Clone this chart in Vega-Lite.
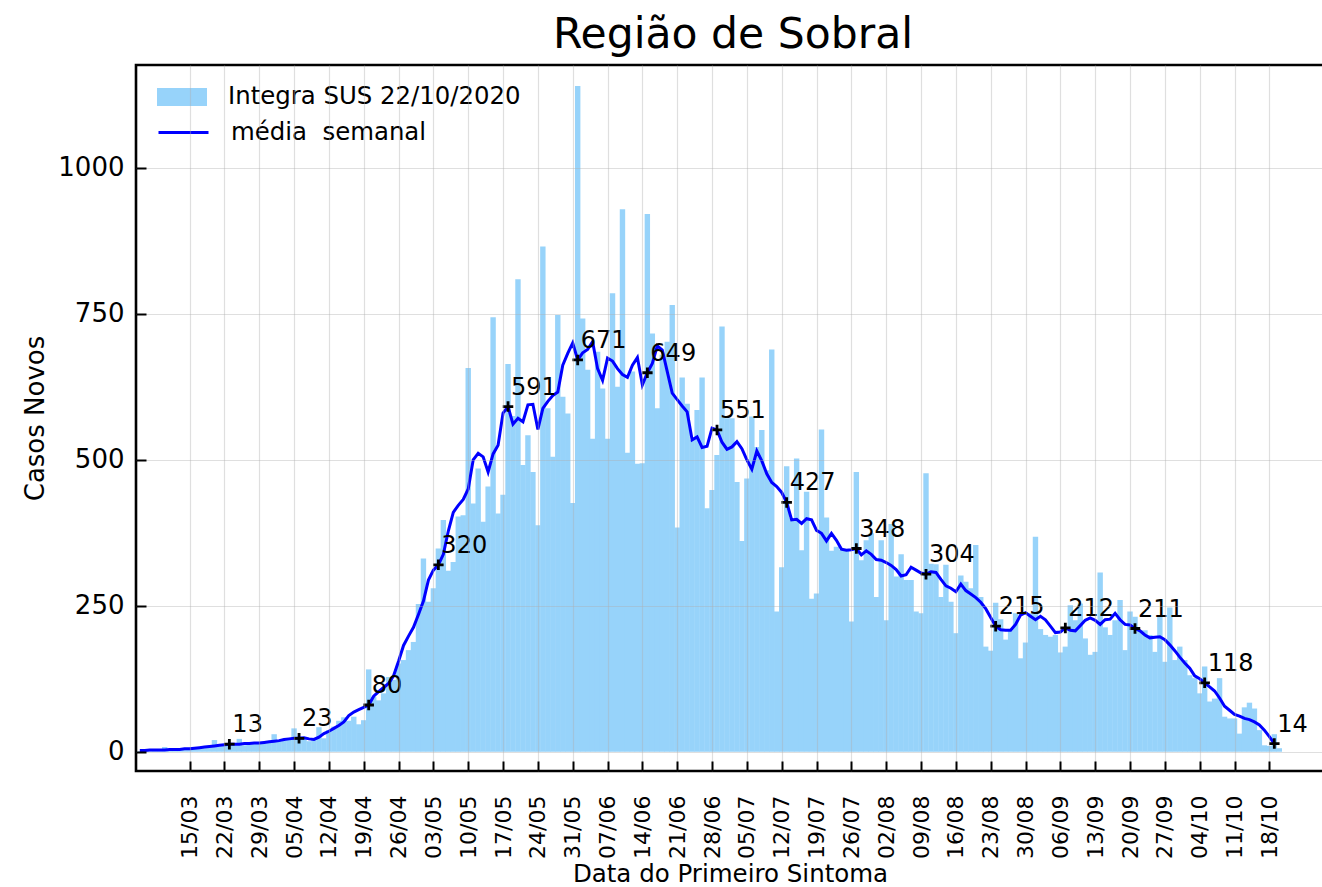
{
"$schema":"https://vega.github.io/schema/vega-lite/v6.json",
"autosize":"none",
"width":1188,"height":706,
"padding":{"left":136,"top":65,"right":0,"bottom":116},
"background":"white",
"config":{"font":"DejaVu Sans","view":{"stroke":"black","strokeWidth":2.6},"axis":{"labelFont":"DejaVu Sans","titleFont":"DejaVu Sans"},"legend":{"labelFont":"DejaVu Sans"}},
"title":{"text":"Região de Sobral","fontSize":42.5,"fontWeight":"normal","color":"black","anchor":"middle","frame":"group","offset":9,"dx":3},
"datasets":{
"diario":[
{"data":"2020-03-05","casos":1,"media":2},{"data":"2020-03-06","casos":2,"media":2},{"data":"2020-03-07","casos":1,"media":3},{"data":"2020-03-08","casos":3,"media":3},{"data":"2020-03-09","casos":2,"media":3},{"data":"2020-03-10","casos":8,"media":3},{"data":"2020-03-11","casos":3,"media":4},{"data":"2020-03-12","casos":4,"media":4},{"data":"2020-03-13","casos":5,"media":4},{"data":"2020-03-14","casos":3,"media":5},{"data":"2020-03-15","casos":6,"media":5},{"data":"2020-03-16","casos":5,"media":6},{"data":"2020-03-17","casos":7,"media":7},{"data":"2020-03-18","casos":8,"media":8},{"data":"2020-03-19","casos":9,"media":9},{"data":"2020-03-20","casos":20,"media":10},{"data":"2020-03-21","casos":10,"media":11},{"data":"2020-03-22","casos":12,"media":12},{"data":"2020-03-23","casos":14,"media":13},{"data":"2020-03-24","casos":15,"media":13},{"data":"2020-03-25","casos":22,"media":13},{"data":"2020-03-26","casos":11,"media":14},{"data":"2020-03-27","casos":13,"media":14},{"data":"2020-03-28","casos":15,"media":15},{"data":"2020-03-29","casos":14,"media":15},{"data":"2020-03-30","casos":16,"media":16},{"data":"2020-03-31","casos":17,"media":17},
{"data":"2020-04-01","casos":30,"media":18},{"data":"2020-04-02","casos":18,"media":19},{"data":"2020-04-03","casos":20,"media":21},{"data":"2020-04-04","casos":22,"media":22},{"data":"2020-04-05","casos":40,"media":23},{"data":"2020-04-06","casos":26,"media":23},{"data":"2020-04-07","casos":24,"media":24},{"data":"2020-04-08","casos":18,"media":22},{"data":"2020-04-09","casos":20,"media":21},{"data":"2020-04-10","casos":42,"media":25},{"data":"2020-04-11","casos":23,"media":31},{"data":"2020-04-12","casos":37,"media":35},{"data":"2020-04-13","casos":43,"media":40},{"data":"2020-04-14","casos":53,"media":45},{"data":"2020-04-15","casos":59,"media":51},{"data":"2020-04-16","casos":53,"media":62},{"data":"2020-04-17","casos":60,"media":68},{"data":"2020-04-18","casos":47,"media":72},{"data":"2020-04-19","casos":54,"media":76},{"data":"2020-04-20","casos":141,"media":80},{"data":"2020-04-21","casos":94,"media":95},{"data":"2020-04-22","casos":88,"media":103},{"data":"2020-04-23","casos":100,"media":110},{"data":"2020-04-24","casos":128,"media":117},{"data":"2020-04-25","casos":123,"media":130},{"data":"2020-04-26","casos":151,"media":155},{"data":"2020-04-27","casos":157,"media":182},{"data":"2020-04-28","casos":174,"media":198},{"data":"2020-04-29","casos":188,"media":213},{"data":"2020-04-30","casos":253,"media":235},
{"data":"2020-05-01","casos":331,"media":258},{"data":"2020-05-02","casos":257,"media":294},{"data":"2020-05-03","casos":280,"media":311},{"data":"2020-05-04","casos":348,"media":320},{"data":"2020-05-05","casos":397,"media":338},{"data":"2020-05-06","casos":310,"media":378},{"data":"2020-05-07","casos":325,"media":410},{"data":"2020-05-08","casos":403,"media":422},{"data":"2020-05-09","casos":405,"media":432},{"data":"2020-05-10","casos":657,"media":450},{"data":"2020-05-11","casos":425,"media":500},{"data":"2020-05-12","casos":485,"media":511},{"data":"2020-05-13","casos":394,"media":505},{"data":"2020-05-14","casos":454,"media":479},{"data":"2020-05-15","casos":744,"media":510},{"data":"2020-05-16","casos":408,"media":525},{"data":"2020-05-17","casos":440,"media":580},{"data":"2020-05-18","casos":664,"media":591},{"data":"2020-05-19","casos":575,"media":561},{"data":"2020-05-20","casos":809,"media":571},{"data":"2020-05-21","casos":491,"media":565},{"data":"2020-05-22","casos":542,"media":594},{"data":"2020-05-23","casos":479,"media":595},{"data":"2020-05-24","casos":388,"media":552},{"data":"2020-05-25","casos":865,"media":588},{"data":"2020-05-26","casos":588,"media":600},{"data":"2020-05-27","casos":505,"media":610},{"data":"2020-05-28","casos":748,"media":616},{"data":"2020-05-29","casos":608,"media":662},{"data":"2020-05-30","casos":579,"media":682},{"data":"2020-05-31","casos":426,"media":700},
{"data":"2020-06-01","casos":1140,"media":671},{"data":"2020-06-02","casos":742,"media":683},{"data":"2020-06-03","casos":654,"media":689},{"data":"2020-06-04","casos":536,"media":702},{"data":"2020-06-05","casos":685,"media":656},{"data":"2020-06-06","casos":622,"media":636},{"data":"2020-06-07","casos":536,"media":674},{"data":"2020-06-08","casos":785,"media":669},{"data":"2020-06-09","casos":625,"media":656},{"data":"2020-06-10","casos":929,"media":646},{"data":"2020-06-11","casos":512,"media":641},{"data":"2020-06-12","casos":651,"media":662},{"data":"2020-06-13","casos":493,"media":675},{"data":"2020-06-14","casos":494,"media":628},{"data":"2020-06-15","casos":921,"media":649},{"data":"2020-06-16","casos":716,"media":665},{"data":"2020-06-17","casos":588,"media":695},{"data":"2020-06-18","casos":680,"media":688},{"data":"2020-06-19","casos":702,"media":651},{"data":"2020-06-20","casos":765,"media":614},{"data":"2020-06-21","casos":384,"media":603},{"data":"2020-06-22","casos":641,"media":592},{"data":"2020-06-23","casos":596,"media":582},{"data":"2020-06-24","casos":534,"media":534},{"data":"2020-06-25","casos":585,"media":539},{"data":"2020-06-26","casos":641,"media":521},{"data":"2020-06-27","casos":417,"media":523},{"data":"2020-06-28","casos":448,"media":554},{"data":"2020-06-29","casos":508,"media":551},{"data":"2020-06-30","casos":728,"media":530},
{"data":"2020-07-01","casos":571,"media":518},{"data":"2020-07-02","casos":571,"media":522},{"data":"2020-07-03","casos":462,"media":531},{"data":"2020-07-04","casos":361,"media":519},{"data":"2020-07-05","casos":468,"media":500},{"data":"2020-07-06","casos":574,"media":484},{"data":"2020-07-07","casos":522,"media":515},{"data":"2020-07-08","casos":551,"media":498},{"data":"2020-07-09","casos":482,"media":476},{"data":"2020-07-10","casos":689,"media":461},{"data":"2020-07-11","casos":240,"media":454},{"data":"2020-07-12","casos":316,"media":444},{"data":"2020-07-13","casos":489,"media":427},{"data":"2020-07-14","casos":400,"media":397},{"data":"2020-07-15","casos":502,"media":398},{"data":"2020-07-16","casos":345,"media":391},{"data":"2020-07-17","casos":445,"media":399},{"data":"2020-07-18","casos":262,"media":397},{"data":"2020-07-19","casos":271,"media":379},{"data":"2020-07-20","casos":552,"media":374},{"data":"2020-07-21","casos":401,"media":361},{"data":"2020-07-22","casos":344,"media":374},{"data":"2020-07-23","casos":351,"media":362},{"data":"2020-07-24","casos":346,"media":347},{"data":"2020-07-25","casos":344,"media":345},{"data":"2020-07-26","casos":223,"media":346},{"data":"2020-07-27","casos":479,"media":348},{"data":"2020-07-28","casos":328,"media":337},{"data":"2020-07-29","casos":362,"media":344},{"data":"2020-07-30","casos":374,"media":338},{"data":"2020-07-31","casos":265,"media":329},
{"data":"2020-08-01","casos":362,"media":328},{"data":"2020-08-02","casos":225,"media":324},{"data":"2020-08-03","casos":390,"media":319},{"data":"2020-08-04","casos":300,"media":312},{"data":"2020-08-05","casos":338,"media":301},{"data":"2020-08-06","casos":294,"media":303},{"data":"2020-08-07","casos":294,"media":316},{"data":"2020-08-08","casos":240,"media":311},{"data":"2020-08-09","casos":237,"media":306},{"data":"2020-08-10","casos":477,"media":304},{"data":"2020-08-11","casos":322,"media":308},{"data":"2020-08-12","casos":321,"media":307},{"data":"2020-08-13","casos":265,"media":295},{"data":"2020-08-14","casos":320,"media":284},{"data":"2020-08-15","casos":257,"media":280},{"data":"2020-08-16","casos":203,"media":274},{"data":"2020-08-17","casos":302,"media":287},{"data":"2020-08-18","casos":291,"media":276},{"data":"2020-08-19","casos":280,"media":270},{"data":"2020-08-20","casos":354,"media":264},{"data":"2020-08-21","casos":265,"media":256},{"data":"2020-08-22","casos":180,"media":245},{"data":"2020-08-23","casos":173,"media":230},{"data":"2020-08-24","casos":255,"media":215},{"data":"2020-08-25","casos":227,"media":209},{"data":"2020-08-26","casos":192,"media":208},{"data":"2020-08-27","casos":208,"media":208},{"data":"2020-08-28","casos":237,"media":218},{"data":"2020-08-29","casos":160,"media":234},{"data":"2020-08-30","casos":187,"media":238},{"data":"2020-08-31","casos":237,"media":232},
{"data":"2020-09-01","casos":368,"media":226},{"data":"2020-09-02","casos":210,"media":232},{"data":"2020-09-03","casos":200,"media":226},{"data":"2020-09-04","casos":197,"media":215},{"data":"2020-09-05","casos":200,"media":204},{"data":"2020-09-06","casos":170,"media":205},{"data":"2020-09-07","casos":180,"media":212},{"data":"2020-09-08","casos":251,"media":208},{"data":"2020-09-09","casos":225,"media":207},{"data":"2020-09-10","casos":254,"media":216},{"data":"2020-09-11","casos":194,"media":225},{"data":"2020-09-12","casos":166,"media":229},{"data":"2020-09-13","casos":171,"media":225},{"data":"2020-09-14","casos":307,"media":218},{"data":"2020-09-15","casos":213,"media":226},{"data":"2020-09-16","casos":200,"media":227},{"data":"2020-09-17","casos":225,"media":237},{"data":"2020-09-18","casos":260,"media":226},{"data":"2020-09-19","casos":174,"media":218},{"data":"2020-09-20","casos":240,"media":217},{"data":"2020-09-21","casos":231,"media":211},{"data":"2020-09-22","casos":208,"media":207},{"data":"2020-09-23","casos":208,"media":200},{"data":"2020-09-24","casos":200,"media":195},{"data":"2020-09-25","casos":171,"media":196},{"data":"2020-09-26","casos":231,"media":197},{"data":"2020-09-27","casos":154,"media":192},{"data":"2020-09-28","casos":247,"media":183},{"data":"2020-09-29","casos":157,"media":173},{"data":"2020-09-30","casos":180,"media":162},
{"data":"2020-10-01","casos":157,"media":152},{"data":"2020-10-02","casos":131,"media":143},{"data":"2020-10-03","casos":126,"media":130},{"data":"2020-10-04","casos":100,"media":125},{"data":"2020-10-05","casos":146,"media":118},{"data":"2020-10-06","casos":86,"media":111},{"data":"2020-10-07","casos":91,"media":104},{"data":"2020-10-08","casos":126,"media":92},{"data":"2020-10-09","casos":60,"media":78},{"data":"2020-10-10","casos":57,"media":71},{"data":"2020-10-11","casos":57,"media":64},{"data":"2020-10-12","casos":31,"media":61},{"data":"2020-10-13","casos":76,"media":57},{"data":"2020-10-14","casos":84,"media":55},{"data":"2020-10-15","casos":74,"media":51},{"data":"2020-10-16","casos":37,"media":46},{"data":"2020-10-17","casos":11,"media":37},{"data":"2020-10-18","casos":10,"media":26},{"data":"2020-10-19","casos":30,"media":14},{"data":"2020-10-20","casos":6,"media":null}
],
"marcos":[
{"data":"2020-03-23","valor":13},{"data":"2020-04-06","valor":23},{"data":"2020-04-20","valor":80},{"data":"2020-05-04","valor":320},{"data":"2020-05-18","valor":591},{"data":"2020-06-01","valor":671},{"data":"2020-06-15","valor":649},{"data":"2020-06-29","valor":551},{"data":"2020-07-13","valor":427},{"data":"2020-07-27","valor":348},{"data":"2020-08-10","valor":304},{"data":"2020-08-24","valor":215},{"data":"2020-09-07","valor":212},{"data":"2020-09-21","valor":211},{"data":"2020-10-05","valor":118},{"data":"2020-10-19","valor":14}
]
},
"encoding":{
"x":{"field":"data","type":"temporal",
"scale":{"type":"utc","nice":false,"domain":[{"year":2020,"month":3,"date":5,"hours":5,"minutes":45,"utc":true},{"year":2020,"month":10,"date":27,"hours":23,"minutes":30,"utc":true}]},
"axis":{"values":[{"year":2020,"month":3,"date":15,"utc":true},{"year":2020,"month":3,"date":22,"utc":true},{"year":2020,"month":3,"date":29,"utc":true},{"year":2020,"month":4,"date":5,"utc":true},{"year":2020,"month":4,"date":12,"utc":true},{"year":2020,"month":4,"date":19,"utc":true},{"year":2020,"month":4,"date":26,"utc":true},{"year":2020,"month":5,"date":3,"utc":true},{"year":2020,"month":5,"date":10,"utc":true},{"year":2020,"month":5,"date":17,"utc":true},{"year":2020,"month":5,"date":24,"utc":true},{"year":2020,"month":5,"date":31,"utc":true},{"year":2020,"month":6,"date":7,"utc":true},{"year":2020,"month":6,"date":14,"utc":true},{"year":2020,"month":6,"date":21,"utc":true},{"year":2020,"month":6,"date":28,"utc":true},{"year":2020,"month":7,"date":5,"utc":true},{"year":2020,"month":7,"date":12,"utc":true},{"year":2020,"month":7,"date":19,"utc":true},{"year":2020,"month":7,"date":26,"utc":true},{"year":2020,"month":8,"date":2,"utc":true},{"year":2020,"month":8,"date":9,"utc":true},{"year":2020,"month":8,"date":16,"utc":true},{"year":2020,"month":8,"date":23,"utc":true},{"year":2020,"month":8,"date":30,"utc":true},{"year":2020,"month":9,"date":6,"utc":true},{"year":2020,"month":9,"date":13,"utc":true},{"year":2020,"month":9,"date":20,"utc":true},{"year":2020,"month":9,"date":27,"utc":true},{"year":2020,"month":10,"date":4,"utc":true},{"year":2020,"month":10,"date":11,"utc":true},{"year":2020,"month":10,"date":18,"utc":true}],
"labelExpr":"utcFormat(datum.value, '%d/%m')","labelAngle":270,"labelFontSize":22,"labelColor":"black","labelPadding":34,
"tickSize":-10,"tickColor":"black","tickWidth":2,"domain":false,
"grid":true,"gridColor":"#b0b0b0","gridOpacity":0.4,"gridWidth":1.2,"zindex":1,
"title":"Data do Primeiro Sintoma","titleFontSize":24.5,"titleFontWeight":"normal","titleColor":"black","titlePadding":4}}
},
"layer":[
{"data":{"name":"diario"},"mark":{"type":"bar","width":5.4},
"encoding":{
"y":{"field":"casos","type":"quantitative","scale":{"domain":[-33,1176],"nice":false,"zero":false},
"axis":{"values":[0,250,500,750,1000],"format":"d","labelFontSize":26,"labelColor":"black","labelPadding":22,"tickSize":-10,"tickColor":"black","tickWidth":2,"domain":false,"grid":true,"gridColor":"#b0b0b0","gridOpacity":0.4,"gridWidth":1.2,"zindex":1,"title":"Casos Novos","titleFontSize":26,"titleFontWeight":"normal","titleColor":"black","titlePadding":9}},
"fill":{"datum":"Integra SUS 22/10/2020","scale":{"range":["#97d3fa"]},
"legend":{"orient":"none","legendX":21,"legendY":7,"title":null,"symbolType":"M-1,-0.36H1V0.36H-1Z","symbolSize":2500,"symbolStrokeWidth":0,"symbolOpacity":1,"labelFontSize":24.4,"labelColor":"black","labelOffset":21,"labelLimit":0,"padding":0}}}},
{"data":{"name":"diario"},"mark":{"type":"line","strokeWidth":3},
"encoding":{
"y":{"field":"media","type":"quantitative"},
"stroke":{"datum":"média\u00a0 semanal","scale":{"range":["#0000ff"]},
"legend":{"orient":"none","legendX":21,"legendY":41,"title":null,"symbolType":"stroke","symbolSize":2500,"symbolStrokeWidth":3,"labelFontSize":24.4,"labelColor":"black","labelOffset":21,"labelLimit":0,"padding":0}}}},
{"data":{"name":"marcos"},"mark":{"type":"point","shape":"M-1,0H1M0,-1V1","size":110,"stroke":"black","strokeWidth":2.8,"filled":false,"opacity":1},
"encoding":{"y":{"field":"valor","type":"quantitative"}}},
{"data":{"name":"marcos"},"mark":{"type":"text","align":"left","baseline":"alphabetic","dx":3,"dy":-12,"fontSize":24,"color":"black"},
"encoding":{"y":{"field":"valor","type":"quantitative"},"text":{"field":"valor","type":"nominal"}}}
]
}
